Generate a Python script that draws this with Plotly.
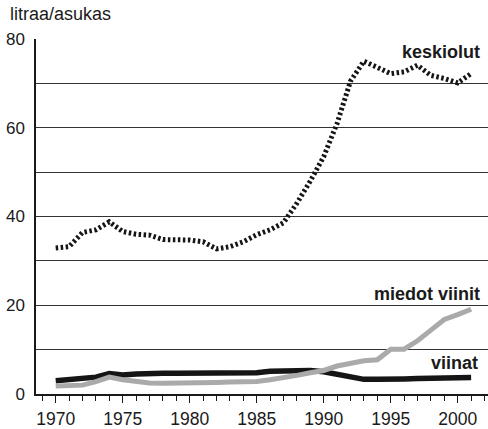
import plotly.graph_objects as go

years = list(range(1970, 2002))
keskiolut = [32.9, 33.2, 36.4, 37.0, 38.8, 36.6, 36.0, 35.8, 34.8, 34.7, 34.7, 34.3, 32.7,
             33.2, 34.3, 35.9, 37.0, 38.6, 43.0, 48.0, 53.5, 61.0, 70.5, 75.0, 73.7, 72.2,
             72.6, 74.1, 71.8, 71.1, 70.1, 72.2]
viinat = [3.0, 3.3, 3.3, 3.8, 4.6, 4.3, 4.5, 4.7, 4.7, 4.7, 4.7, 4.8, 4.8, 4.9, 4.9, 4.8,
          5.1, 5.2, 5.2, 5.3, 5.0, 4.4, 3.8, 3.3, 3.3, 3.5, 3.4, 3.5, 3.6, 3.6, 3.6, 3.7]
miedot_viinit = [1.8, 1.9, 2.0, 2.8, 3.8, 3.2, 2.8, 2.5, 2.4, 2.4, 2.5, 2.6, 2.6, 2.7, 2.7,
                 2.8, 3.2, 3.6, 4.2, 4.8, 5.3, 6.3, 7.0, 7.5, 7.7, 10.1, 10.1, 12.0, 14.4,
                 16.8, 17.9, 19.1]

y_tickvals = [0, 10, 20, 30, 40, 50, 60, 70, 80]
y_ticktext = ["0", "", "20", "", "40", "", "60", "", "80"]
x_tickvals = [1970, 1975, 1980, 1985, 1990, 1995, 2000]

font_family = "Liberation Sans, Arial, Helvetica, sans-serif"

fig = go.Figure()
fig.add_trace(go.Scatter(x=years, y=viinat, mode="lines",
                         line=dict(color="#151515", width=5.5), showlegend=False))
fig.add_trace(go.Scatter(x=years, y=miedot_viinit, mode="lines",
                         line=dict(color="#aaaaaa", width=5), showlegend=False))
fig.add_trace(go.Scatter(x=years, y=keskiolut, mode="lines",
                         line=dict(color="#151515", width=5, dash="2.5px,2.5px"),
                         showlegend=False))

fig.update_layout(
    width=488, height=429,
    margin=dict(l=36, r=0, t=39, b=35, autoexpand=False),
    paper_bgcolor="white", plot_bgcolor="white",
    font=dict(family=font_family, size=17, color="#1a1a1a"),
    xaxis=dict(range=[1968.53, 2002.26], tickvals=x_tickvals, ticks="outside",
               ticklen=7, tickwidth=1, tickcolor="#1a1a1a", showgrid=False,
               showline=True, linecolor="#1a1a1a", linewidth=1.5, zeroline=False,
               minor=dict(dtick=1, tick0=1970, ticks="outside", ticklen=5,
                          tickcolor="#1a1a1a", tickwidth=1),
               ticklabelstandoff=1, tickfont=dict(size=17.5), automargin=False),
    yaxis=dict(range=[0, 80], tickvals=y_tickvals, ticktext=y_ticktext, ticks="",
               showgrid=True, gridcolor="#333333", gridwidth=1, showline=True,
               linecolor="#1a1a1a", linewidth=1.5, zeroline=False,
               ticklabelstandoff=6, tickfont=dict(size=17), automargin=False),
    annotations=[
        dict(text="litraa/asukas", xref="paper", yref="paper", x=-28 / 452, y=1.0 + 25 / 355,
             xanchor="left", yanchor="middle", showarrow=False, font=dict(size=18)),
        dict(text="<b>keskiolut</b>", xref="paper", yref="y", x=(482 - 36) / 452, y=77.1,
             xanchor="right", yanchor="middle", showarrow=False, font=dict(size=18)),
        dict(text="<b>miedot viinit</b>", xref="paper", yref="y", x=(482 - 36) / 452, y=22.5,
             xanchor="right", yanchor="middle", showarrow=False, font=dict(size=18)),
        dict(text="<b>viinat</b>", xref="paper", yref="y", x=(480 - 36) / 452, y=7.0,
             xanchor="right", yanchor="middle", showarrow=False, font=dict(size=18)),
    ],
)

fig.write_html("out.html", config={"displayModeBar": False},
               post_script="document.body.style.margin='0';document.body.style.padding='0';")
